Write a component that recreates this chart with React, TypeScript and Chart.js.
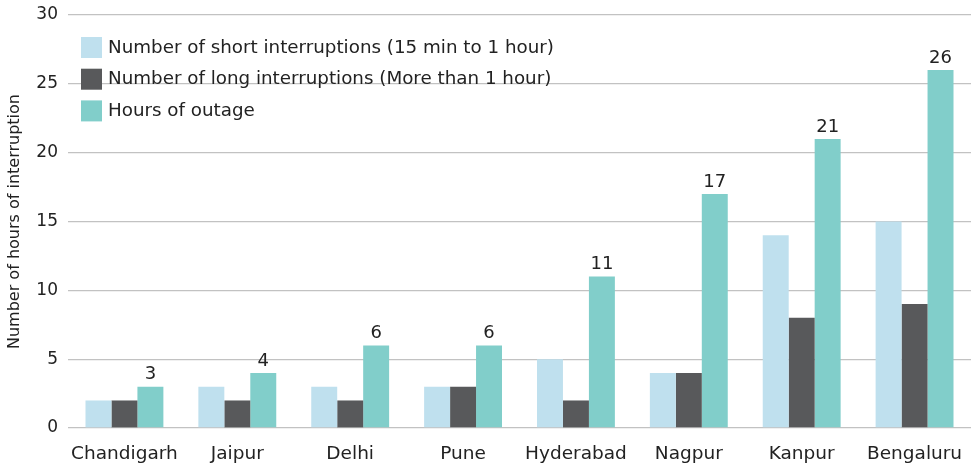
import React, { useEffect, useRef } from "react";
import { Chart, registerables } from "chart.js";

Chart.register(...registerables);

const categories = ["Chandigarh", "Jaipur", "Delhi", "Pune", "Hyderabad", "Nagpur", "Kanpur", "Bengaluru"];
const shortInterruptions = [2, 3, 3, 3, 5, 4, 14, 15];
const longInterruptions = [2, 2, 2, 3, 2, 4, 8, 9];
const hoursOfOutage = [3, 4, 6, 6, 11, 17, 21, 26];
const seriesLabels = [
  "Number of short interruptions (15 min to 1 hour)",
  "Number of long interruptions (More than 1 hour)",
  "Hours of outage",
];
const yTitle = "Number of hours of interruption";

const COLORS = ["#bfe0ee", "#58595b", "#81ceca"];
const FONT = "'DejaVu Sans', sans-serif";

const insideLegend = {
  id: "insideLegend",
  afterDraw(chart: any) {
    const ctx = chart.ctx;
    const x0 = chart.chartArea.left + 13;
    const y0 = 37;
    ctx.save();
    ctx.font = `18.3px ${FONT}`;
    ctx.textBaseline = "middle";
    ctx.textAlign = "left";
    chart.data.datasets.forEach((ds: any, i: number) => {
      const y = y0 + i * 31.7;
      ctx.fillStyle = ds.backgroundColor;
      ctx.fillRect(x0, y, 21, 21);
      ctx.fillStyle = "#222";
      ctx.fillText(ds.label, x0 + 27, y + 11);
    });
    ctx.restore();
  },
};

const valueLabels = {
  id: "valueLabels",
  afterDatasetsDraw(chart: any) {
    const ctx = chart.ctx;
    const meta = chart.getDatasetMeta(2);
    const data = chart.data.datasets[2].data;
    ctx.save();
    ctx.font = `18px ${FONT}`;
    ctx.fillStyle = "#222";
    ctx.textAlign = "center";
    ctx.textBaseline = "bottom";
    meta.data.forEach((bar: any, i: number) => {
      ctx.fillText(String(data[i]), bar.x, bar.y - 3);
    });
    ctx.restore();
  },
};

export default function App() {
  const ref = useRef<HTMLCanvasElement>(null);
  useEffect(() => {
    if (!ref.current) return;
    const chart = new Chart(ref.current, {
      type: "bar",
      data: {
        labels: categories,
        datasets: [
          { label: seriesLabels[0], data: shortInterruptions, backgroundColor: COLORS[0] },
          { label: seriesLabels[1], data: longInterruptions, backgroundColor: COLORS[1] },
          { label: seriesLabels[2], data: hoursOfOutage, backgroundColor: COLORS[2] },
        ],
      },
      options: {
        animation: false,
        responsive: false,
        maintainAspectRatio: false,
        layout: { padding: { top: 15, right: 1, left: 0, bottom: 0 } },
        datasets: { bar: { categoryPercentage: 0.69, barPercentage: 1 } } as any,
        plugins: {
          legend: { display: false },
          tooltip: { enabled: false },
        },
        scales: {
          x: {
            grid: { display: false },
            border: { display: false },
            ticks: { color: "#222", font: { family: FONT, size: 18.5 }, padding: 7, maxRotation: 0 },
            afterFit(scale: any) {
              scale.height = 38;
              scale.paddingLeft = 0;
              scale.paddingRight = 0;
            },
          },
          y: {
            min: 0,
            max: 30,
            ticks: { stepSize: 5, color: "#222", font: { family: FONT, size: 17 }, padding: 10 },
            grid: { color: "#c2c2c2", lineWidth: 1.3, drawTicks: false },
            border: { display: false },
            title: {
              display: true,
              text: yTitle,
              color: "#222",
              font: { family: FONT, size: 16 },
              padding: { top: 5, bottom: 0 },
            },
            afterFit(scale: any) {
              scale.width = 68;
              scale.paddingTop = 0;
              scale.paddingBottom = 0;
            },
          },
        },
      },
      plugins: [insideLegend, valueLabels],
    });
    return () => chart.destroy();
  }, []);
  return (
    <div style={{ position: "fixed", left: 0, top: 0, width: 972, height: 466, background: "#fff" }}>
      <canvas ref={ref} width={972} height={466} style={{ width: 972, height: 466 }} />
    </div>
  );
}
